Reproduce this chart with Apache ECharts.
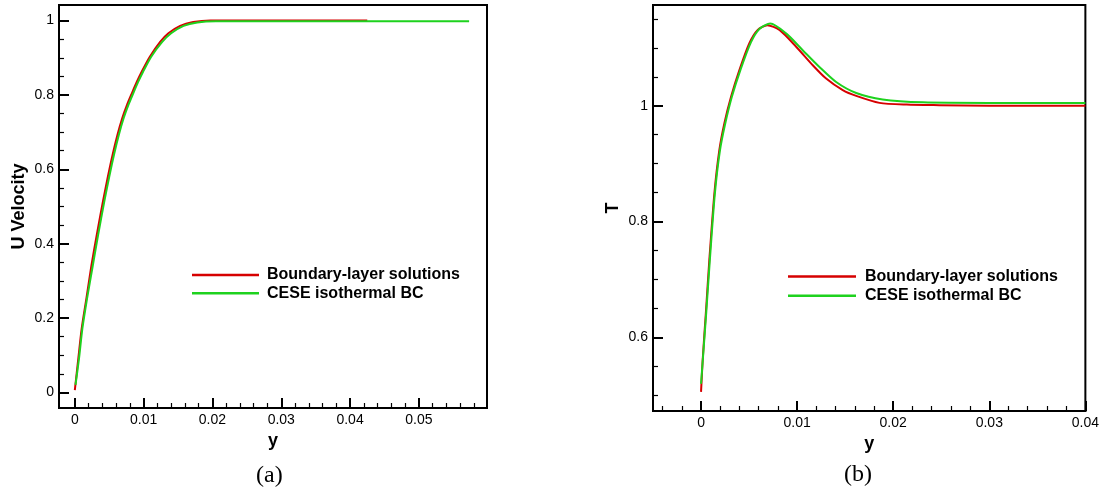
<!DOCTYPE html>
<html>
<head>
<meta charset="utf-8">
<script src="https://cdn.jsdelivr.net/npm/echarts@6/dist/echarts.min.js"></script>
<style>
  html, body { margin: 0; padding: 0; background: #fff; }
  #chart { width: 1102px; height: 492px; }
</style>
</head>
<body>
<div id="chart"></div>
<script>
// ---- Panel (a): U velocity ----
const seriesNames = ['Boundary-layer solutions', 'CESE isothermal BC'];
const aRedX = [0, 0.0005, 0.001, 0.0017, 0.0024, 0.0032, 0.0041, 0.0048, 0.0055, 0.0062, 0.0069, 0.0076, 0.0083, 0.0090, 0.0097, 0.0109, 0.0124, 0.0136, 0.0153, 0.0172, 0.0197, 0.030, 0.0425];
const aRedU = [0.006, 0.09, 0.172, 0.255, 0.34, 0.425, 0.515, 0.58, 0.64, 0.693, 0.738, 0.774, 0.805, 0.835, 0.862, 0.903, 0.943, 0.966, 0.986, 0.996, 1.0, 1.0, 1.0];
const aGreenX = [0.0001, 0.0006, 0.0011, 0.0018, 0.0026, 0.0034, 0.0043, 0.0050, 0.0057, 0.0064, 0.0071, 0.0078, 0.0085, 0.0092, 0.0099, 0.0111, 0.0127, 0.0140, 0.0158, 0.0178, 0.0205, 0.030, 0.040, 0.050, 0.0573];
const aGreenU = [0.02, 0.09, 0.172, 0.255, 0.34, 0.425, 0.515, 0.58, 0.64, 0.693, 0.738, 0.774, 0.805, 0.835, 0.862, 0.903, 0.943, 0.966, 0.986, 0.995, 0.998, 0.998, 0.998, 0.998, 0.998];
const aXTicks = [0, 0.01, 0.02, 0.03, 0.04, 0.05];
const aXMinor = [0.002, 0.004, 0.006, 0.008, 0.012, 0.014, 0.016, 0.018, 0.022, 0.024, 0.026, 0.028, 0.032, 0.034, 0.036, 0.038, 0.042, 0.044, 0.046, 0.048, 0.052, 0.054, 0.056, 0.058];
const aYTicks = [0, 0.2, 0.4, 0.6, 0.8, 1];
const aYMinor = [0.05, 0.1, 0.15, 0.25, 0.3, 0.35, 0.45, 0.5, 0.55, 0.65, 0.7, 0.75, 0.85, 0.9, 0.95];

// ---- Panel (b): T ----
const bRedX = [0, 0.00017, 0.00052, 0.00086, 0.00139, 0.0019, 0.00243, 0.00313, 0.0040, 0.00503, 0.0059, 0.0069, 0.00816, 0.0099, 0.01163, 0.01302, 0.01475, 0.01615, 0.01857, 0.0214, 0.0248, 0.030, 0.040];
const bRedT = [0.506, 0.561, 0.647, 0.733, 0.849, 0.923, 0.970, 1.016, 1.062, 1.108, 1.131, 1.139, 1.131, 1.102, 1.070, 1.047, 1.027, 1.017, 1.005, 1.002, 1.001, 1.0, 1.0];
const bGreenX = [0, 0.0002, 0.00055, 0.0009, 0.00143, 0.00195, 0.0025, 0.0032, 0.0041, 0.0052, 0.0061, 0.0072, 0.00885, 0.01058, 0.01232, 0.01406, 0.01615, 0.0189, 0.0231, 0.030, 0.040];
const bGreenT = [0.52, 0.565, 0.645, 0.73, 0.847, 0.921, 0.968, 1.015, 1.062, 1.110, 1.133, 1.142, 1.125, 1.096, 1.067, 1.041, 1.022, 1.011, 1.006, 1.005, 1.005];
const bXTicks = [0, 0.01, 0.02, 0.03, 0.04];
const bXMinor = [-0.004, -0.002, 0.002, 0.004, 0.006, 0.008, 0.012, 0.014, 0.016, 0.018, 0.022, 0.024, 0.026, 0.028, 0.032, 0.034, 0.036, 0.038];
const bYTicks = [0.6, 0.8, 1];
const bYMinor = [0.5, 0.55, 0.65, 0.7, 0.75, 0.85, 0.9, 0.95, 1.05, 1.1, 1.15];

const captions = ['(a)', '(b)'];
const axisTitles = { aY: 'U Velocity', bY: 'T', x: 'y' };

const RED = '#d60000';
const GREEN = '#1ed21e';
const FONT = 'Liberation Sans, Arial, sans-serif';

function pairs(xs, ys) { return xs.map((x, i) => [x, ys[i]]); }

function majorAxis(gridIndex, pos, min, max, ticks, extra) {
  return Object.assign({
    type: 'value', gridIndex, position: pos, min, max,
    axisLine: { show: true, onZero: false, lineStyle: { color: '#000', width: 2 } },
    axisTick: { show: false },
    axisLabel: { show: true, customValues: ticks, color: '#000', fontSize: 14, fontFamily: FONT, margin: 5,
      formatter: v => String(v) },
    splitLine: { show: false },
    nameTextStyle: { color: '#000', fontSize: 18, fontWeight: 'bold', fontFamily: FONT }
  }, extra || {});
}
function tickAxis(gridIndex, pos, min, max, ticks, len, w) {
  return {
    type: 'value', gridIndex, position: pos, offset: 0, min, max,
    axisLine: { show: false, onZero: false },
    axisTick: { show: true, inside: true, length: len, customValues: ticks, lineStyle: { color: '#000', width: w } },
    axisLabel: { show: false },
    splitLine: { show: false }
  };
}

const captionStyle = { fontFamily: 'Liberation Serif, Times New Roman, serif', fontWeight: 'normal', fontSize: 24, color: '#000' };

const option = {
  backgroundColor: '#fff',
  animation: false,
  title: [
    { text: captions[0], left: 256, top: 464, padding: 0, textStyle: captionStyle },
    { text: captions[1], left: 844, top: 463, padding: 0, textStyle: captionStyle }
  ],
  grid: [
    { left: 59, top: 5, width: 428, height: 403, show: true, borderColor: '#000', borderWidth: 2, containLabel: false },
    { left: 653, top: 5, width: 433, height: 406, show: true, borderColor: '#000', borderWidth: 2, containLabel: false }
  ],
  xAxis: [
    majorAxis(0, 'bottom', -0.0023, 0.0599, aXTicks, { name: axisTitles.x, nameLocation: 'middle', nameGap: 15 }),
    tickAxis(0, 'bottom', -0.0023, 0.0599, aXMinor, 5, 1.2),
    tickAxis(0, 'bottom', -0.0023, 0.0599, aXTicks, 10, 2),
    majorAxis(1, 'bottom', -0.005, 0.04, bXTicks, { name: axisTitles.x, nameLocation: 'middle', nameGap: 15 }),
    tickAxis(1, 'bottom', -0.005, 0.04, bXMinor, 5, 1.2),
    tickAxis(1, 'bottom', -0.005, 0.04, bXTicks, 10, 2)
  ],
  yAxis: [
    majorAxis(0, 'left', -0.042, 1.042, aYTicks, { name: axisTitles.aY, nameLocation: 'middle', nameGap: 31 }),
    tickAxis(0, 'left', -0.042, 1.042, aYMinor, 5, 1.2),
    tickAxis(0, 'left', -0.042, 1.042, aYTicks, 10, 2),
    majorAxis(1, 'left', 0.473, 1.174, bYTicks, { name: axisTitles.bY, nameLocation: 'middle', nameGap: 31 }),
    tickAxis(1, 'left', 0.473, 1.174, bYMinor, 5, 1.2),
    tickAxis(1, 'left', 0.473, 1.174, bYTicks, 10, 2)
  ],
  legend: [
    { data: seriesNames, orient: 'vertical', left: 187, top: 262, icon: 'rect', itemWidth: 67, itemHeight: 2.5, itemGap: 2.3,
      textStyle: { fontSize: 16, fontWeight: 'bold', color: '#000', fontFamily: FONT, padding: [0, 0, 0, 3] }, selectedMode: false },
    { data: seriesNames, orient: 'vertical', left: 783, top: 263.5, icon: 'rect', itemWidth: 68, itemHeight: 2.5, itemGap: 3.2,
      textStyle: { fontSize: 16, fontWeight: 'bold', color: '#000', fontFamily: FONT, padding: [0, 0, 0, 4] }, selectedMode: false }
  ],
  series: [
    { name: seriesNames[0], type: 'line', xAxisIndex: 0, yAxisIndex: 0, data: pairs(aRedX, aRedU), showSymbol: false, smooth: 0.25, lineStyle: { color: RED, width: 2 }, itemStyle: { color: RED } },
    { name: seriesNames[1], type: 'line', xAxisIndex: 0, yAxisIndex: 0, data: pairs(aGreenX, aGreenU), showSymbol: false, smooth: 0.25, lineStyle: { color: GREEN, width: 2 }, itemStyle: { color: GREEN } },
    { name: seriesNames[0], type: 'line', xAxisIndex: 3, yAxisIndex: 3, data: pairs(bRedX, bRedT), showSymbol: false, smooth: 0.25, lineStyle: { color: RED, width: 2 }, itemStyle: { color: RED } },
    { name: seriesNames[1], type: 'line', xAxisIndex: 3, yAxisIndex: 3, data: pairs(bGreenX, bGreenT), showSymbol: false, smooth: 0.25, lineStyle: { color: GREEN, width: 2 }, itemStyle: { color: GREEN } }
  ]
};

const chart = echarts.init(document.getElementById('chart'), null, { renderer: 'canvas' });
chart.setOption(option);
</script>
</body>
</html>
